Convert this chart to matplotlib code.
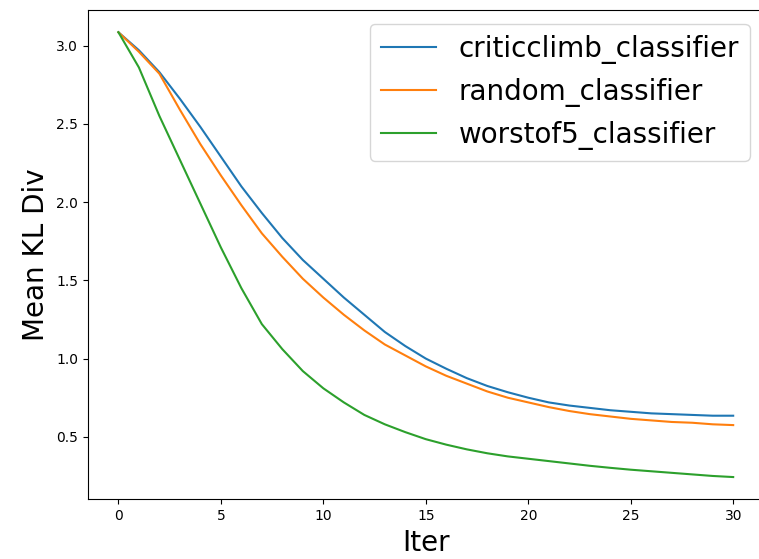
import matplotlib
matplotlib.use("Agg")
import matplotlib.pyplot as plt
import numpy as np

iters = list(range(31))
criticclimb = [3.085, 2.97, 2.83, 2.66, 2.48, 2.29, 2.10, 1.93, 1.77, 1.63, 1.51, 1.39, 1.28, 1.17, 1.08,
               1.00, 0.935, 0.875, 0.825, 0.785, 0.75, 0.72, 0.70, 0.685, 0.67, 0.66, 0.65, 0.645, 0.64, 0.635, 0.635]
random_c = [3.085, 2.96, 2.82, 2.59, 2.37, 2.17, 1.98, 1.80, 1.65, 1.51, 1.39, 1.28, 1.18, 1.09, 1.02,
            0.95, 0.89, 0.84, 0.79, 0.75, 0.72, 0.69, 0.665, 0.645, 0.63, 0.615, 0.605, 0.595, 0.59, 0.58, 0.575]
worstof5 = [3.085, 2.86, 2.55, 2.27, 1.99, 1.71, 1.45, 1.22, 1.06, 0.92, 0.81, 0.72, 0.64, 0.58, 0.53,
            0.485, 0.45, 0.42, 0.395, 0.375, 0.36, 0.345, 0.33, 0.315, 0.302, 0.29, 0.28, 0.27, 0.26, 0.25, 0.243]

fig = plt.figure(figsize=(7.59, 5.59), dpi=100)
ax = fig.add_axes([0.1155, 0.1068, 0.891, 0.8753])
ax.plot(iters, criticclimb, label="criticclimb_classifier")
ax.plot(iters, random_c, label="random_classifier")
ax.plot(iters, worstof5, label="worstof5_classifier")
ax.set_xlabel("Iter", fontsize=20)
ax.set_ylabel("Mean KL Div", fontsize=20)
ax.legend(fontsize=20, loc="upper right")
fig.savefig("out.png", dpi=100)
